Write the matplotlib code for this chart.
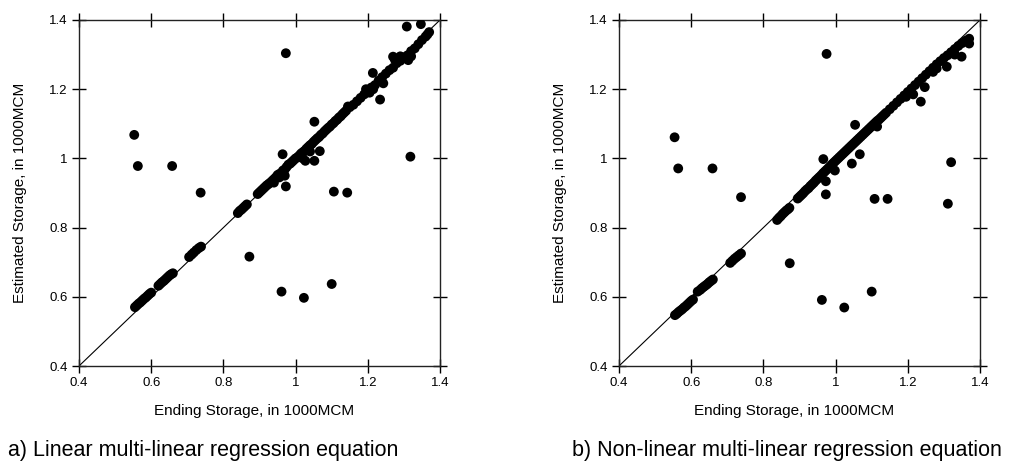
import matplotlib
matplotlib.use("Agg")
import matplotlib.pyplot as plt
import numpy as np

plt.rcParams["font.family"] = ["Liberation Sans", "DejaVu Sans"]

# panel a) linear MLR: ending storage vs estimated storage (1000MCM)
ending_a = [
    0.555, 0.560, 0.565, 0.570, 0.575, 0.580, 0.585, 0.590, 0.595, 0.600,
    0.620, 0.625, 0.630, 0.635, 0.640, 0.645, 0.650, 0.655, 0.660,
    0.705, 0.712, 0.718, 0.725, 0.732, 0.738,
    0.840, 0.845, 0.850, 0.855, 0.860, 0.865,
    0.895, 0.900, 0.905, 0.910, 0.915, 0.920, 0.925, 0.930, 0.935, 0.940,
    0.945, 0.950, 0.955, 0.960, 0.965, 0.970, 0.975, 0.980, 0.985, 0.990,
    0.995, 1.000, 1.005, 1.010, 1.015, 1.020, 1.025, 1.030, 1.035, 1.040,
    1.045, 1.050, 1.055, 1.060, 1.065, 1.070, 1.075, 1.080, 1.085, 1.090,
    1.095, 1.100, 1.105, 1.110, 1.115, 1.120, 1.125, 1.130, 1.135, 1.140,
    1.145, 1.150, 1.160, 1.170, 1.180, 1.190, 1.195, 1.200, 1.210, 1.220,
    1.230, 1.240, 1.250, 1.260, 1.270, 1.275, 1.280, 1.290, 1.300, 1.310,
    1.320, 1.330, 1.340, 1.350, 1.360, 1.365, 1.370,
    0.940, 0.955, 1.020, 1.040, 1.205, 1.215, 1.320, 1.290, 1.214, 1.270,
    # outliers
    0.553, 0.563, 0.658, 0.737, 0.973, 0.872, 0.961, 1.023, 1.100, 1.106,
    1.143, 1.318, 1.308, 1.347, 1.234, 1.243, 1.052, 1.067, 1.052, 1.027,
    0.973, 0.970, 0.964, 1.312,
]
estimated_a = [
    0.570, 0.575, 0.580, 0.584, 0.589, 0.594, 0.598, 0.603, 0.608, 0.612,
    0.632, 0.637, 0.642, 0.646, 0.651, 0.656, 0.661, 0.665, 0.668,
    0.715, 0.722, 0.728, 0.735, 0.741, 0.745,
    0.842, 0.848, 0.852, 0.857, 0.862, 0.867,
    0.897, 0.902, 0.907, 0.912, 0.917, 0.922, 0.926, 0.930, 0.935, 0.940,
    0.945, 0.952, 0.955, 0.958, 0.965, 0.968, 0.975, 0.982, 0.985, 0.990,
    0.995, 1.000, 1.003, 1.008, 1.014, 1.018, 1.022, 1.028, 1.033, 1.038,
    1.042, 1.048, 1.053, 1.058, 1.062, 1.068, 1.072, 1.078, 1.083, 1.088,
    1.092, 1.098, 1.102, 1.108, 1.112, 1.118, 1.122, 1.128, 1.133, 1.138,
    1.150, 1.148, 1.155, 1.165, 1.175, 1.185, 1.200, 1.195, 1.205, 1.212,
    1.225, 1.235, 1.245, 1.255, 1.262, 1.285, 1.275, 1.282, 1.292, 1.298,
    1.310, 1.318, 1.330, 1.342, 1.352, 1.358, 1.365,
    0.930, 0.945, 1.000, 1.020, 1.190, 1.200, 1.295, 1.295, 1.247, 1.294,
    1.068, 0.978, 0.978, 0.901, 1.304, 0.716, 0.615, 0.597, 0.637, 0.904,
    0.901, 1.005, 1.381, 1.388, 1.170, 1.217, 1.106, 1.021, 0.993, 0.993,
    0.919, 0.950, 1.012, 1.284,
]

# panel b) non-linear MLR
ending_b = [
    0.555, 0.560, 0.565, 0.570, 0.575, 0.580, 0.585, 0.590, 0.595, 0.600, 0.605,
    0.618, 0.625, 0.630, 0.635, 0.640, 0.645, 0.650, 0.655, 0.660,
    0.708, 0.714, 0.720, 0.726, 0.732, 0.738,
    0.838, 0.843, 0.848, 0.853, 0.858, 0.863, 0.868, 0.872,
    0.895, 0.900, 0.905, 0.910, 0.915, 0.920, 0.925, 0.930, 0.935, 0.940,
    0.945, 0.950, 0.955, 0.960, 0.965, 0.970, 0.975, 0.980, 0.985, 0.990,
    0.995, 1.000, 1.005, 1.010, 1.015, 1.020, 1.025, 1.030, 1.035, 1.040,
    1.045, 1.050, 1.055, 1.060, 1.065, 1.070, 1.075, 1.080, 1.085, 1.090,
    1.095, 1.100, 1.105, 1.110, 1.115, 1.120, 1.125, 1.130, 1.135, 1.140,
    1.150, 1.160, 1.170, 1.180, 1.190, 1.200, 1.210, 1.220, 1.230, 1.240,
    1.250, 1.260, 1.270, 1.280, 1.290, 1.300, 1.310, 1.320, 1.330, 1.340,
    1.350, 1.360, 1.370,
    1.370, 1.115, 1.195, 1.215, 1.270, 1.280, 1.330,
    # outliers
    0.554, 0.564, 0.659, 0.738, 0.975, 0.873, 0.962, 1.024, 1.100, 1.108,
    1.144, 1.320, 1.311, 1.054, 1.067, 0.966, 0.973, 0.973, 0.998, 1.045,
    1.236, 1.247, 1.308, 1.349,
]
estimated_b = [
    0.547, 0.551, 0.556, 0.560, 0.564, 0.569, 0.573, 0.578, 0.583, 0.588, 0.592,
    0.615, 0.620, 0.625, 0.629, 0.633, 0.637, 0.642, 0.646, 0.650,
    0.698, 0.704, 0.710, 0.715, 0.720, 0.725,
    0.822, 0.828, 0.833, 0.839, 0.844, 0.849, 0.853, 0.857,
    0.884, 0.889, 0.894, 0.899, 0.905, 0.910, 0.914, 0.920, 0.925, 0.930,
    0.936, 0.941, 0.946, 0.951, 0.957, 0.962, 0.967, 0.972, 0.977, 0.983,
    0.988, 0.993, 0.998, 1.003, 1.008, 1.013, 1.018, 1.023, 1.028, 1.033,
    1.038, 1.043, 1.048, 1.053, 1.058, 1.063, 1.068, 1.073, 1.078, 1.083,
    1.088, 1.093, 1.098, 1.103, 1.108, 1.112, 1.117, 1.122, 1.127, 1.132,
    1.142, 1.152, 1.162, 1.172, 1.182, 1.192, 1.202, 1.212, 1.222, 1.232,
    1.242, 1.252, 1.262, 1.272, 1.281, 1.290, 1.298, 1.307, 1.316, 1.325,
    1.333, 1.340, 1.346,
    1.332, 1.092, 1.178, 1.185, 1.250, 1.260, 1.300,
    1.061, 0.971, 0.971, 0.888, 1.302, 0.697, 0.591, 0.569, 0.615, 0.883,
    0.883, 0.989, 0.869, 1.097, 1.012, 0.998, 0.896, 0.934, 0.965, 0.985,
    1.164, 1.206, 1.265, 1.294,
]

ticks = [0.4, 0.6, 0.8, 1, 1.2, 1.4]
tick_labels = ["0.4", "0.6", "0.8", "1", "1.2", "1.4"]
captions = ["a) Linear multi-linear regression equation",
            "b) Non-linear multi-linear regression equation"]

fig = plt.figure(figsize=(10.24, 4.61), dpi=100)
ax_a = fig.add_axes([79 / 1024, 95 / 461, 361 / 1024, 346 / 461])
ax_b = fig.add_axes([619 / 1024, 95 / 461, 361 / 1024, 346 / 461])

for ax, xs, ys in [(ax_a, ending_a, estimated_a), (ax_b, ending_b, estimated_b)]:
    ax.plot([0.4, 1.4], [0.4, 1.4], color="black", lw=0.8, zorder=2)
    ax.scatter(xs, ys, s=50, color="black", edgecolors="none", zorder=3)
    ax.set_xlim(0.4, 1.4)
    ax.set_ylim(0.4, 1.4)
    ax.set_xticks(ticks)
    ax.set_xticklabels(tick_labels)
    ax.set_yticks(ticks)
    ax.set_yticklabels(tick_labels)
    ax.tick_params(direction="inout", length=10, width=1, top=True, right=True,
                   labelsize=9.5, colors="black", pad=3)
    for sp in ax.spines.values():
        sp.set_linewidth(1)
        sp.set_color("#222222")
    ax.set_xlabel("Ending Storage, in 1000MCM", fontsize=11)
    ax.set_ylabel("Estimated Storage, in 1000MCM", fontsize=11)
    ax.xaxis.set_label_coords(0.485, -0.11)
    ax.yaxis.set_label_coords(-0.145, 0.5)

fig.text(203 / 1024, 5 / 461, captions[0], ha="center", va="baseline",
         fontsize=15.5)
fig.text(787 / 1024, 5 / 461, captions[1], ha="center", va="baseline",
         fontsize=15.5)

fig.savefig("out.png", dpi=100)
